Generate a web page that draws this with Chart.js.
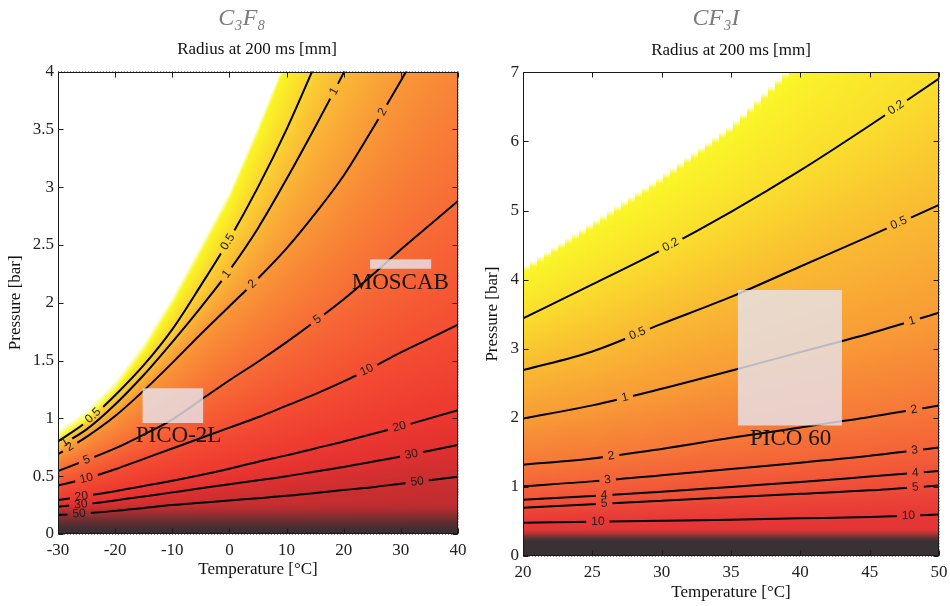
<!DOCTYPE html>
<html>
<head>
<meta charset="utf-8">
<script src="https://cdn.jsdelivr.net/npm/chart.js@4.4.1/dist/chart.umd.min.js"></script>
<style>
  html, body { margin: 0; padding: 0; background: #fff; overflow: hidden; }
  #wrap { position: relative; width: 950px; height: 606px; overflow: hidden; }
  canvas { position: absolute; top: 0; }
  #c3f8 { left: 0; }
  #cf3i { left: 475px; }
</style>
</head>
<body>
<div id="wrap">
  <canvas id="c3f8" width="514" height="606"></canvas>
  <canvas id="cf3i" width="512" height="606"></canvas>
</div>
<script>
// ---- C3F8 panel: pressure [bar] of each radius contour, sampled at these temperatures ----
const c3f8Temp = [-30, -25, -20, -15, -10, -5, 0, 5, 10, 15, 20, 25, 30, 35, 40];
const c3f8Edge = [0.82, 0.99, 1.24, 1.57, 1.97, 2.42, 2.88, 3.45, 4.06, null, null, null, null, null, null];
const c3f8P05 = [0.80, 0.97, 1.20, 1.46, 1.77, 2.15, 2.55, 3.00, 3.50, 4.06, null, null, null, null, null];
const c3f8P1  = [0.755, 0.905, 1.12, 1.375, 1.66, 1.96, 2.28, 2.645, 3.07, 3.52, 3.99, 4.5, null, null, null];
const c3f8P2  = [0.69, 0.84, 1.02, 1.24, 1.48, 1.73, 1.97, 2.21, 2.47, 2.77, 3.10, 3.50, 3.92, 4.35, null];
const c3f8P5  = [0.545, 0.64, 0.74, 0.86, 0.99, 1.16, 1.33, 1.49, 1.66, 1.84, 2.03, 2.24, 2.46, 2.67, 2.88];
const c3f8P10 = [0.42, 0.48, 0.56, 0.65, 0.74, 0.83, 0.92, 1.01, 1.11, 1.21, 1.32, 1.44, 1.57, 1.69, 1.81];
const c3f8P20 = [0.294, 0.33, 0.37, 0.415, 0.46, 0.51, 0.565, 0.625, 0.68, 0.74, 0.80, 0.865, 0.93, 1.00, 1.07];
const c3f8P30 = [0.236, 0.26, 0.29, 0.325, 0.36, 0.395, 0.43, 0.465, 0.50, 0.54, 0.58, 0.625, 0.67, 0.72, 0.77];
const c3f8P50 = [0.164, 0.18, 0.20, 0.225, 0.25, 0.27, 0.29, 0.31, 0.33, 0.355, 0.38, 0.405, 0.435, 0.465, 0.495];
const c3f8Levels = ['0.5', '1', '2', '5', '10', '20', '30', '50'];
const c3f8LabelAt = [[-23.85, -0.3], [-28.8, -0.5, 18.3], [-27.9, 4.0, 26.8], [-25, 15.4], [-25, 24.05], [-25.9, 29.75], [-26, 31.85], [-26.3, 32.85]];
const pico2lTemp = [-15.2, -4.6], pico2lPress = [0.96, 1.26];
const moscabTemp = [24.6, 35.3], moscabPress = [2.295, 2.376];

// ---- CF3I panel ----
const cf3iTemp = [20, 25, 30, 35, 40, 45, 50];
const cf3iEdge = [4.09, 4.74, 5.41, 6.14, 7.12, null, null];
const cf3iP02 = [3.44, 3.93, 4.43, 4.98, 5.58, 6.23, 6.91];
const cf3iP05 = [2.69, 2.96, 3.36, 3.75, 4.19, 4.63, 5.08];
const cf3iP1  = [1.99, 2.18, 2.42, 2.68, 2.95, 3.22, 3.52];
const cf3iP2  = [1.32, 1.41, 1.55, 1.71, 1.86, 2.01, 2.18];
const cf3iP3  = [1.01, 1.08, 1.17, 1.26, 1.35, 1.45, 1.57];
const cf3iP4  = [0.815, 0.87, 0.93, 1.00, 1.07, 1.15, 1.23];
const cf3iP5  = [0.70, 0.75, 0.80, 0.85, 0.90, 0.95, 1.02];
const cf3iP10 = [0.48, 0.495, 0.51, 0.525, 0.545, 0.565, 0.60];
const cf3iLevels = ['0.2', '0.5', '1', '2', '3', '4', '5', '10'];
const cf3iLabelAt = [[30.65, 46.9], [28.25, 47.1], [27.35, 48.05], [26.35, 48.2], [26.1, 48.25], [25.85, 48.3], [25.85, 48.3], [25.4, 47.8]];
const pico60Temp = [35.5, 43.0], pico60Press = [1.89, 3.85];

Chart.defaults.font.family = '"Liberation Serif", "DejaVu Serif", serif';
const WHITE = [255, 255, 255];
const LABEL_FONT = '12px "Liberation Sans", Arial, sans-serif';

function series(temp, press) { return temp.map((t, i) => ({ x: t, y: press[i] })); }
function rectPoints(t, p) {
  return [{ x: t[0], y: p[0] }, { x: t[1], y: p[0] }, { x: t[1], y: p[1] }, { x: t[0], y: p[1] }, { x: t[0], y: p[0] }];
}
function mix(a, b, t) { return [a[0] + (b[0] - a[0]) * t, a[1] + (b[1] - a[1]) * t, a[2] + (b[2] - a[2]) * t]; }

function pixelLine(chart, idx) {
  return chart.getDatasetMeta(idx).data
    .filter(p => !p.skip && Number.isFinite(p.y))
    .map(p => ({ x: p.x, y: p.y }));
}
// y (and slope angle) of a pixel polyline at pixel x, extending the end segments
function yOn(pts, px) {
  let i = 0;
  while (i < pts.length - 2 && pts[i + 1].x < px) i++;
  const a = pts[i], b = pts[i + 1];
  const t = (px - a.x) / (b.x - a.x);
  return { y: a.y + t * (b.y - a.y), ang: Math.atan2(b.y - a.y, b.x - a.x) };
}

// colour field filled between the contour lines
function fieldPlugin(style) {
  return {
    id: 'field',
    beforeDatasetsDraw(chart) {
      const { ctx, chartArea: a, scales: { y: ys } } = chart;
      const x0 = Math.round(a.left), y0 = Math.round(a.top);
      const w = Math.round(a.right) - x0, h = Math.round(a.bottom) - y0;
      const ds = chart.data.datasets;
      const edge = pixelLine(chart, ds.findIndex(d => d.role === 'edge'));
      const lines = [];
      ds.forEach((d, i) => { if (d.role === 'contour') lines.push(pixelLine(chart, i)); });
      const dTop = ys.getPixelForValue(style.darkFrom), dBot = ys.getPixelForValue(style.darkTo);
      const cols = style.colors;
      const img = ctx.createImageData(w, h);
      for (let i = 0; i < w; i++) {
        const px = x0 + i + 0.5;
        const ex = style.cell ? x0 + (Math.floor(i / style.cell) + 0.5) * style.cell : px;
        const stops = [yOn(edge, ex).y];
        lines.forEach(l => stops.push(Math.max(yOn(l, px).y, stops[stops.length - 1])));
        stops.push(Math.max(a.bottom, stops[stops.length - 1]));
        let k = 0;
        for (let j = 0; j < h; j++) {
          const py = y0 + j + 0.5;
          let c;
          if (py < stops[0]) {
            c = mix(cols[0], WHITE, Math.min(1, (stops[0] - py) / style.fade));
          } else {
            while (k < stops.length - 2 && py >= stops[k + 1]) k++;
            const span = stops[k + 1] - stops[k];
            c = mix(cols[k], cols[k + 1], span > 0 ? Math.min(1, (py - stops[k]) / span) : 0);
            if (py > dTop) {
              let t = Math.min(1, (py - dTop) / (dBot - dTop));
              t = t * t * (3 - 2 * t);
              c = mix(c, style.dark, t);
            }
          }
          const o = (j * w + i) * 4;
          img.data[o] = c[0]; img.data[o + 1] = c[1]; img.data[o + 2] = c[2]; img.data[o + 3] = 255;
        }
      }
      const off = document.createElement('canvas');
      off.width = w; off.height = h;
      off.getContext('2d').putImageData(img, 0, 0);
      ctx.drawImage(off, x0, y0);
    }
  };
}

// inline contour labels: gap cut out of the line, text rotated along it
const labelPlugin = {
  id: 'clabels',
  beforeDatasetsDraw(chart) {
    const { ctx, scales: { x } } = chart;
    ctx.save();
    ctx.font = LABEL_FONT;
    chart.$clabels = [];
    chart.data.datasets.forEach((d, i) => {
      if (d.role !== 'contour') return;
      const pts = pixelLine(chart, i);
      const w = ctx.measureText(d.level).width;
      d.labelAt.forEach(t => {
        const px = x.getPixelForValue(t);
        const p = yOn(pts, px);
        chart.$clabels.push({ ds: i, x: px, y: p.y, ang: p.ang, text: d.level, hw: w / 2 + 5, hh: 7 });
      });
    });
    ctx.restore();
  },
  beforeDatasetDraw(chart, args) {
    const labs = (chart.$clabels || []).filter(l => l.ds === args.index);
    if (!labs.length) return;
    const ctx = chart.ctx;
    ctx.save();
    ctx.beginPath();
    ctx.rect(0, 0, chart.width, chart.height);
    labs.forEach(l => {
      const c = Math.cos(l.ang), s = Math.sin(l.ang);
      const pt = (u, v) => [l.x + u * c - v * s, l.y + u * s + v * c];
      const q = [pt(-l.hw, -l.hh), pt(l.hw, -l.hh), pt(l.hw, l.hh), pt(-l.hw, l.hh)];
      ctx.moveTo(q[0][0], q[0][1]);
      q.slice(1).forEach(p => ctx.lineTo(p[0], p[1]));
      ctx.closePath();
    });
    ctx.clip('evenodd');
    args.meta.$clipped = true;
  },
  afterDatasetDraw(chart, args) {
    if (args.meta.$clipped) { chart.ctx.restore(); args.meta.$clipped = false; }
  },
  afterDatasetsDraw(chart) {
    const ctx = chart.ctx;
    (chart.$clabels || []).forEach(l => {
      ctx.save();
      ctx.translate(l.x, l.y);
      ctx.rotate(l.ang);
      ctx.font = LABEL_FONT;
      ctx.fillStyle = '#1c1c1c';
      ctx.textAlign = 'center';
      ctx.textBaseline = 'middle';
      ctx.fillText(l.text, 0, 0);
      ctx.restore();
    });
  }
};

function notesPlugin(notes) {
  return {
    id: 'notes',
    afterDatasetsDraw(chart) {
      const { ctx, scales: { x, y } } = chart;
      ctx.save();
      ctx.font = '23px "Liberation Serif", serif';
      ctx.fillStyle = '#151515';
      ctx.textAlign = 'center';
      ctx.textBaseline = 'middle';
      notes.forEach(n => ctx.fillText(n.text, x.getPixelForValue(n.x), y.getPixelForValue(n.y)));
      ctx.restore();
    }
  };
}

// box around the plot with small inward ticks
const framePlugin = {
  id: 'frame',
  afterDraw(chart) {
    const { ctx, chartArea: a, scales: { x, y } } = chart;
    const L = Math.round(a.left) + 0.5, R = Math.round(a.right) - 0.5;
    const T = Math.round(a.top) + 0.5, B = Math.round(a.bottom) - 0.5;
    ctx.save();
    ctx.strokeStyle = '#1a1a1a';
    ctx.lineWidth = 1;
    ctx.strokeRect(L, T, R - L, B - T);
    ctx.beginPath();
    x.ticks.forEach((t, i) => {
      const px = Math.round(x.getPixelForTick(i)) + 0.5;
      ctx.moveTo(px, B); ctx.lineTo(px, B - 5);
      ctx.moveTo(px, T); ctx.lineTo(px, T + 5);
    });
    y.ticks.forEach((t, i) => {
      const py = Math.round(y.getPixelForTick(i)) + 0.5;
      ctx.moveTo(L, py); ctx.lineTo(L + 5, py);
      ctx.moveTo(R, py); ctx.lineTo(R - 5, py);
    });
    ctx.stroke();
    ctx.restore();
  }
};

const plainNumber = v => String(Math.round(v * 100) / 100);

function makePanel(id, p) {
  const datasets = [];
  p.boxes.forEach(b => datasets.push({
    role: 'box', data: rectPoints(b.t, b.p), order: -1, fill: 'shape',
    backgroundColor: 'rgba(230,226,234,0.82)', borderWidth: 0, pointRadius: 0
  }));
  datasets.push({ role: 'edge', data: series(p.temp, p.edge), showLine: false, pointRadius: 0 });
  p.lines.forEach((press, i) => datasets.push({
    role: 'contour', level: p.levels[i], labelAt: p.labelAt[i],
    data: series(p.temp, press), borderColor: '#000', borderWidth: 2,
    pointRadius: 0, fill: false, cubicInterpolationMode: 'monotone'
  }));

  const axisFont = { family: '"Liberation Serif", serif', size: 17 };
  return new Chart(document.getElementById(id), {
    type: 'line',
    data: { datasets },
    options: {
      responsive: false,
      animation: false,
      devicePixelRatio: 1,
      events: [],
      layout: { padding: 0 },
      plugins: {
        legend: { display: false },
        tooltip: { enabled: false },
        filler: { drawTime: 'beforeDatasetDraw' },
        title: {
          display: true, text: p.title, color: '#7b7b7b',
          font: { family: '"Liberation Serif", serif', size: 24, style: 'italic', weight: 'normal' },
          padding: { top: p.titleTop, bottom: 0 }
        },
        subtitle: {
          display: true, text: 'Radius at 200 ms [mm]', color: '#111',
          font: axisFont, padding: { top: p.subTop, bottom: p.subBottom }
        }
      },
      scales: {
        x: {
          type: 'linear', min: p.xMin, max: p.xMax, z: 1,
          ticks: { stepSize: p.xStep, color: '#222', font: axisFont, padding: 6, maxRotation: 0, callback: plainNumber },
          grid: { color: 'rgba(0,0,0,0.45)', drawTicks: false },
          border: { display: false, dash: [1, 2] },
          title: { display: true, text: 'Temperature [°C]', color: '#111', font: axisFont, padding: { top: 0, bottom: p.xTitlePad } },
          afterFit: s => { s.height = p.xHeight; }
        },
        y: {
          type: 'linear', position: 'left', min: p.yMin, max: p.yMax, z: 1,
          ticks: { stepSize: p.yStep, color: '#222', font: axisFont, padding: 4, callback: plainNumber },
          grid: { color: 'rgba(0,0,0,0.45)', drawTicks: false },
          border: { display: false, dash: [1, 2] },
          title: { display: true, text: 'Pressure [bar]', color: '#111', font: axisFont, padding: { top: p.yTitlePad, bottom: 0 } },
          afterFit: s => { s.width = p.yWidth; }
        },
        y2: {
          type: 'linear', position: 'right', min: p.yMin, max: p.yMax, display: true,
          grid: { display: false }, ticks: { display: false }, border: { display: false },
          afterFit: s => { s.width = p.rightGap; }
        }
      }
    },
    plugins: [fieldPlugin(p.field), labelPlugin, notesPlugin(p.notes), framePlugin]
  });
}

makePanel('c3f8', {
  title: 'C\u2083F\u2088' + '\u00a0'.repeat(5),
  temp: c3f8Temp, edge: c3f8Edge,
  lines: [c3f8P05, c3f8P1, c3f8P2, c3f8P5, c3f8P10, c3f8P20, c3f8P30, c3f8P50],
  levels: c3f8Levels, labelAt: c3f8LabelAt,
  boxes: [{ t: pico2lTemp, p: pico2lPress }, { t: moscabTemp, p: moscabPress }],
  notes: [{ text: 'PICO-2L', x: -8.9, y: 0.85 }, { text: 'MOSCAB', x: 29.9, y: 2.175 }],
  xMin: -30, xMax: 40, xStep: 10, yMin: 0, yMax: 4, yStep: 0.5,
  titleTop: 4.6, subTop: 5.9, subBottom: 11.8,
  xHeight: 72, xTitlePad: 26, yWidth: 58, yTitlePad: 5, rightGap: 56,
  field: {
    fade: 10, cell: 0, darkFrom: 0.28, darkTo: 0, dark: [58, 46, 50],
    colors: [[250, 246, 35], [251, 212, 48], [250, 185, 54], [249, 152, 55], [247, 108, 54],
             [244, 78, 50], [237, 56, 48], [224, 48, 48], [202, 46, 48], [185, 44, 48]]
  }
});

makePanel('cf3i', {
  title: 'CF\u2083I' + '\u00a0'.repeat(5),
  temp: cf3iTemp, edge: cf3iEdge,
  lines: [cf3iP02, cf3iP05, cf3iP1, cf3iP2, cf3iP3, cf3iP4, cf3iP5, cf3iP10],
  levels: cf3iLevels, labelAt: cf3iLabelAt,
  boxes: [{ t: pico60Temp, p: pico60Press }],
  notes: [{ text: 'PICO 60', x: 39.3, y: 1.70 }],
  xMin: 20, xMax: 50, xStep: 5, yMin: 0, yMax: 7, yStep: 1,
  titleTop: 4.1, subTop: 7.4, subBottom: 11.6,
  xHeight: 50, xTitlePad: 3, yWidth: 48, yTitlePad: 7, rightGap: 48,
  field: {
    fade: 6, cell: 7, darkFrom: 0.4, darkTo: 0.2, dark: [56, 50, 52],
    colors: [[250, 246, 40], [250, 222, 45], [249, 186, 50], [248, 156, 54], [246, 120, 56],
             [244, 98, 56], [241, 84, 56], [238, 74, 56], [230, 55, 54], [222, 50, 52]]
  }
});
</script>
</body>
</html>
